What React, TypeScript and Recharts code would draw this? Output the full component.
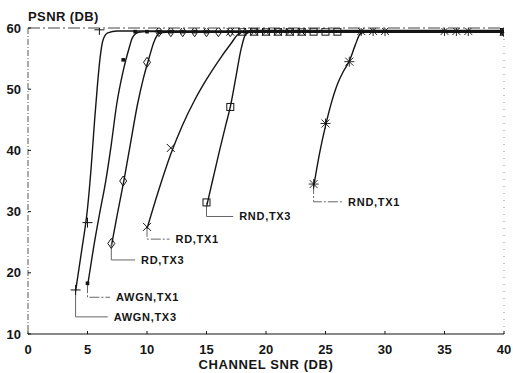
import { ComposedChart, Line, Scatter, XAxis, YAxis, ReferenceLine, ReferenceDot } from 'recharts';

const xTicks = [0, 5, 10, 15, 20, 25, 30, 35, 40];
const yTicks = [10, 20, 30, 40, 50, 60];

// fitted curves
const awgnTx3Curve = [
  { x: 4, y: 17 }, { x: 4.5, y: 23.5 }, { x: 5, y: 30.5 }, { x: 5.3, y: 37 }, { x: 5.6, y: 45 },
  { x: 5.85, y: 51 }, { x: 6.05, y: 55 }, { x: 6.3, y: 58 }, { x: 6.7, y: 59.2 }, { x: 7.5, y: 59.5 }, { x: 40, y: 59.5 },
];
const awgnTx1Curve = [
  { x: 5, y: 17.8 }, { x: 5.5, y: 24 }, { x: 6, y: 29.5 }, { x: 6.55, y: 35.2 }, { x: 7, y: 41 },
  { x: 7.45, y: 47.5 }, { x: 8, y: 53 }, { x: 8.45, y: 56.4 }, { x: 8.8, y: 58.5 }, { x: 9.3, y: 59.3 }, { x: 10, y: 59.4 }, { x: 40, y: 59.4 },
];
const rdTx3Curve = [
  { x: 7, y: 24.3 }, { x: 7.5, y: 29.5 }, { x: 8.07, y: 35.2 }, { x: 8.6, y: 41 }, { x: 9.2, y: 47.5 },
  { x: 9.7, y: 51.8 }, { x: 10.2, y: 55.3 }, { x: 10.6, y: 57.8 }, { x: 11, y: 59.1 }, { x: 11.6, y: 59.3 }, { x: 40, y: 59.3 },
];
const rdTx1Curve = [
  { x: 10, y: 27.2 }, { x: 11, y: 33.6 }, { x: 12, y: 39.4 }, { x: 13, y: 44.2 }, { x: 14, y: 48.2 },
  { x: 15, y: 51.6 }, { x: 16, y: 54.6 }, { x: 17, y: 57.3 }, { x: 17.8, y: 59.2 }, { x: 18.5, y: 59.5 }, { x: 40, y: 59.5 },
];
const rndTx3Curve = [
  { x: 15, y: 30.8 }, { x: 15.5, y: 35 }, { x: 16.1, y: 40 }, { x: 16.6, y: 44 }, { x: 17, y: 47.1 },
  { x: 17.5, y: 52.3 }, { x: 17.9, y: 56.5 }, { x: 18.3, y: 59 }, { x: 19, y: 59.6 }, { x: 40, y: 59.6 },
];
const rndTx1Curve = [
  { x: 24, y: 34 }, { x: 24.5, y: 39.5 }, { x: 25, y: 44 }, { x: 25.5, y: 47.8 }, { x: 26, y: 50.8 },
  { x: 26.5, y: 52.9 }, { x: 27, y: 54.6 }, { x: 27.5, y: 57.2 }, { x: 27.9, y: 59 }, { x: 28.5, y: 59.5 }, { x: 40, y: 59.5 },
];

// measured points (markers)
const awgnTx3Marks = [{ x: 4, y: 17.2 }, { x: 5, y: 28.2 }, { x: 6, y: 59.7 }, { x: 40, y: 59.5 }];
const awgnTx1Marks = [
  { x: 5, y: 18.3 }, { x: 8, y: 54.8 }, { x: 9, y: 59.4 }, { x: 10, y: 59.4 }, { x: 11, y: 59.4 },
  { x: 12, y: 59.4 }, { x: 13, y: 59.4 }, { x: 14, y: 59.4 }, { x: 15, y: 59.4 }, { x: 40, y: 59.4 },
];
const rdTx3Marks = [
  { x: 7, y: 24.8 }, { x: 8, y: 35 }, { x: 10, y: 54.4 }, { x: 11, y: 59.4 }, { x: 12, y: 59.4 }, { x: 13, y: 59.4 },
  { x: 14, y: 59.4 }, { x: 15, y: 59.4 }, { x: 16, y: 59.4 }, { x: 17, y: 59.4 }, { x: 40, y: 59.4 },
];
const rdTx1Marks = [
  { x: 10, y: 27.5 }, { x: 12, y: 40.4 }, { x: 17, y: 59.4 }, { x: 18, y: 59.4 }, { x: 19, y: 59.4 }, { x: 20, y: 59.4 },
  { x: 21, y: 59.4 }, { x: 22, y: 59.4 }, { x: 23, y: 59.4 }, { x: 40, y: 59.4 },
];
const rndTx3Marks = [
  { x: 15, y: 31.5 }, { x: 17, y: 47.1 }, { x: 18, y: 59.4 }, { x: 19, y: 59.4 }, { x: 20, y: 59.4 }, { x: 21, y: 59.4 },
  { x: 22, y: 59.4 }, { x: 23, y: 59.4 }, { x: 24, y: 59.4 }, { x: 25, y: 59.4 }, { x: 26, y: 59.4 }, { x: 40, y: 59.4 },
];
const rndTx1Marks = [
  { x: 24, y: 34.5 }, { x: 25, y: 44.4 }, { x: 27, y: 54.5 }, { x: 28, y: 59.5 }, { x: 29, y: 59.5 }, { x: 30, y: 59.5 },
  { x: 35, y: 59.5 }, { x: 36, y: 59.5 }, { x: 37, y: 59.5 }, { x: 40, y: 59.5 },
];

// callout labels
const labelText = ['AWGN,TX3', 'AWGN,TX1', 'RD,TX3', 'RD,TX1', 'RND,TX3', 'RND,TX1'];
const labelElbowY = [12.8, 16.0, 22.1, 25.5, 29.2, 31.6];
const labelEndX = [6.7, 6.9, 9.0, 11.9, 17.25, 26.4];

const INK = '#151515';

const plus = (p: any) => (
  <path d={`M${p.cx - 5},${p.cy}H${p.cx + 5}M${p.cx},${p.cy - 5}V${p.cy + 5}`} stroke={INK} strokeWidth={1} fill="none" />
);
const dotSquare = (p: any) => <rect x={p.cx - 1.8} y={p.cy - 1.8} width={3.6} height={3.6} fill={INK} />;
const diamond = (p: any) => (
  <path d={`M${p.cx},${p.cy - 5}L${p.cx + 3.5},${p.cy}L${p.cx},${p.cy + 5}L${p.cx - 3.5},${p.cy}Z`} stroke={INK} strokeWidth={1} fill="none" />
);
const cross = (p: any) => (
  <path d={`M${p.cx - 4},${p.cy - 4}L${p.cx + 4},${p.cy + 4}M${p.cx - 4},${p.cy + 4}L${p.cx + 4},${p.cy - 4}`} stroke={INK} strokeWidth={1} fill="none" />
);
const box = (p: any) => <rect x={p.cx - 3.5} y={p.cy - 3.5} width={7} height={7} stroke={INK} strokeWidth={1} fill="none" />;
const star = (p: any) => (
  <path
    d={`M${p.cx - 4},${p.cy - 4}L${p.cx + 4},${p.cy + 4}M${p.cx - 4},${p.cy + 4}L${p.cx + 4},${p.cy - 4}M${p.cx},${p.cy - 5}V${p.cy + 5}M${p.cx - 5},${p.cy}H${p.cx + 5}`}
    stroke={INK} strokeWidth={0.9} fill="none"
  />
);

const series = [
  { curve: awgnTx3Curve, marks: awgnTx3Marks, shape: plus },
  { curve: awgnTx1Curve, marks: awgnTx1Marks, shape: dotSquare },
  { curve: rdTx3Curve, marks: rdTx3Marks, shape: diamond },
  { curve: rdTx1Curve, marks: rdTx1Marks, shape: cross },
  { curve: rndTx3Curve, marks: rndTx3Marks, shape: box },
  { curve: rndTx1Curve, marks: rndTx1Marks, shape: star },
];

const font = '"Liberation Sans", Arial, sans-serif';

const XTick = ({ x, y, payload }: any) => (
  <g>
    <line x1={x} x2={x} y1={y} y2={y - 3} stroke={INK} />
    <text x={x} y={y + 20} textAnchor="middle" fontFamily={font} fontSize={13} fontWeight="bold" fill={INK}>
      {payload.value}
    </text>
  </g>
);

const YTick = ({ x, y, payload }: any) => (
  <g>
    <line x1={x} x2={x + 3} y1={y} y2={y} stroke={INK} />
    <text x={x - 7} y={y} dy="0.36em" textAnchor="end" fontFamily={font} fontSize={13} fontWeight="bold" fill={INK}>
      {payload.value}
    </text>
  </g>
);

export default function App() {
  return (
    <div style={{ position: 'absolute', left: 0, top: 0, background: '#fff' }}>
      <ComposedChart width={513} height={373} margin={{ top: 28, right: 9, left: 0, bottom: 0 }}>
        <XAxis
          type="number"
          dataKey="x"
          domain={[0, 40]}
          ticks={xTicks}
          allowDataOverflow
          height={39}
          tickLine={false}
          tickSize={0}
          tickMargin={0}
          tick={<XTick />}
          axisLine={{ stroke: INK, strokeWidth: 1.2 }}
          label={(props: any) => (
            <text
              x={props.viewBox.x + props.viewBox.width / 2}
              y={props.viewBox.y + 35}
              textAnchor="middle"
              fontFamily={font}
              fontSize={13}
              fontWeight="bold"
              letterSpacing={0.6}
              fill={INK}
            >
              CHANNEL SNR (DB)
            </text>
          )}
        />
        <YAxis
          type="number"
          domain={[10, 60]}
          ticks={yTicks}
          allowDataOverflow
          width={28}
          tickLine={false}
          tickSize={0}
          tickMargin={0}
          tick={<YTick />}
          axisLine={{ stroke: '#555', strokeDasharray: '6 2 1 2' }}
          label={(props: any) => (
            <text
              x={props.viewBox.x + props.viewBox.width}
              y={props.viewBox.y - 7}
              fontFamily={font}
              fontSize={13}
              fontWeight="bold"
              letterSpacing={0.4}
              fill={INK}
            >
              PSNR (DB)
            </text>
          )}
        />
        <ReferenceLine y={60} stroke="#444" strokeDasharray="12 3 2 3" />
        <ReferenceLine x={40} stroke="#888" strokeDasharray="1 6" />

        {series.map((s, i) => (
          <Line
            key={`c${i}`}
            data={s.curve}
            dataKey="y"
            type="monotone"
            stroke={INK}
            strokeWidth={1.4}
            dot={false}
            activeDot={false}
            isAnimationActive={false}
          />
        ))}

        {series.map((s, i) => (
          <Line
            key={`l${i}`}
            data={[
              { x: s.marks[0].x, y: s.marks[0].y },
              { x: s.marks[0].x, y: labelElbowY[i] },
              { x: labelEndX[i], y: labelElbowY[i] },
            ]}
            dataKey="y"
            type="linear"
            stroke="#666"
            strokeWidth={1}
            strokeDasharray={i % 2 === 1 ? '10 2 2 2' : undefined}
            dot={false}
            activeDot={false}
            isAnimationActive={false}
          />
        ))}

        {series.map((s, i) => (
          <Scatter key={`m${i}`} data={s.marks} dataKey="y" shape={s.shape} isAnimationActive={false} />
        ))}

        {labelText.map((t, i) => (
          <ReferenceDot
            key={t}
            x={labelEndX[i] + 0.5}
            y={labelElbowY[i]}
            r={0}
            shape={(p: any) => (
              <text x={p.cx} y={p.cy} dy="0.36em" fontFamily={font} fontSize={11} fontWeight="bold" letterSpacing={0.7} fill={INK}>
                {t}
              </text>
            )}
          />
        ))}
      </ComposedChart>
    </div>
  );
}
